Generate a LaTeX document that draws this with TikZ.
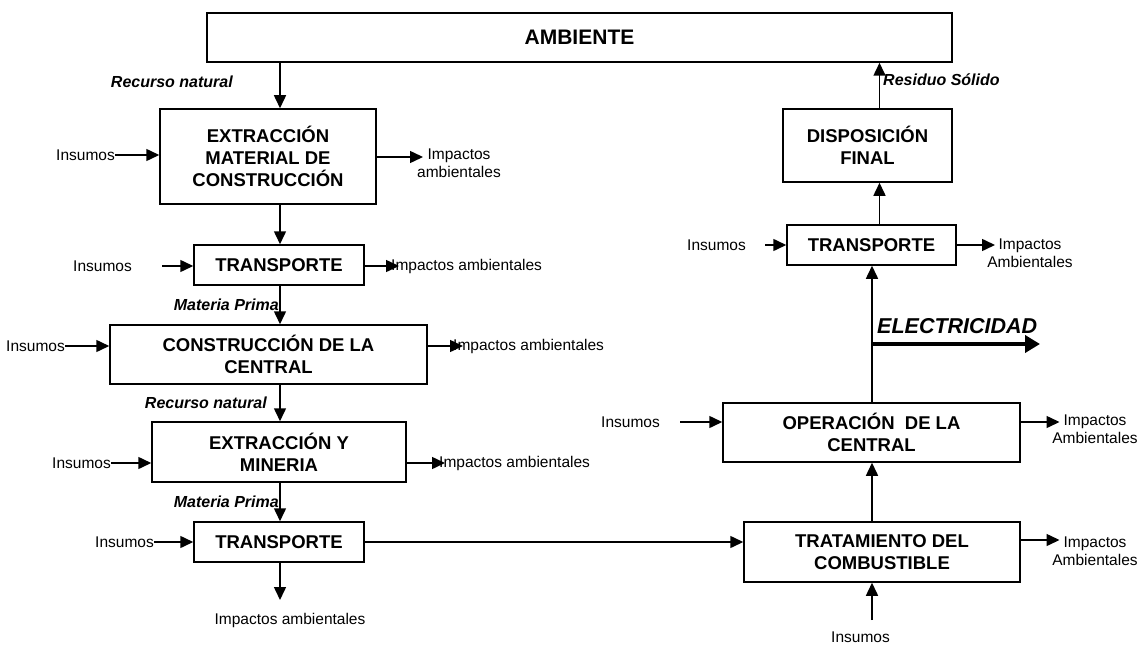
\documentclass[tikz,border=0pt]{standalone}
\usepackage{fontspec}
\setmainfont{Liberation Sans}
\usetikzlibrary{arrows.meta}

\tikzset{
  box/.style={draw, line width=1.5pt, inner sep=0pt, align=center,
              font=\fontsize{18.5}{21.7}\selectfont\bfseries},
  flow/.style={line width=1.5pt, -{Triangle[length=13pt,width=12pt]}},
  txt/.style={inner sep=0pt, align=center, font=\fontsize{15.5}{18.3}\selectfont},
  lab/.style={inner sep=0pt, font=\fontsize{16}{19}\selectfont\bfseries\itshape},
}

\begin{document}
\begin{tikzpicture}[x=1pt,y=-1pt]
\useasboundingbox (0,0) rectangle (1139,647);

% vertical axes of the two chains
\coordinate (xL) at (280,0);
\coordinate (xR) at (872,0);
\coordinate (xS) at (879.5,0);

% process boxes
\node[box, minimum width=745pt, minimum height=49pt,
      font=\fontsize{21}{25}\selectfont\bfseries] (amb) at (579.5,37.5) {AMBIENTE};
\node[box, minimum width=216pt, minimum height=95pt] (emc) at (268,156.5)
     {EXTRACCIÓN\\MATERIAL DE\\CONSTRUCCIÓN};
\node[box, minimum width=170pt, minimum height=40pt] (tr1) at (279,265) {TRANSPORTE};
\node[box, minimum width=317pt, minimum height=59pt] (cons) at (268.5,354.5)
     {CONSTRUCCIÓN DE LA\\CENTRAL};
\node[box, minimum width=254pt, minimum height=60pt] (exm) at (279,452)
     {EXTRACCIÓN Y\\MINERIA};
\node[box, minimum width=170pt, minimum height=40pt] (tr2) at (279,542) {TRANSPORTE};
\node[box, minimum width=169pt, minimum height=73pt] (disp) at (867.5,145.5)
     {DISPOSICIÓN\\FINAL};
\node[box, minimum width=169pt, minimum height=40pt] (tr3) at (871.5,245) {TRANSPORTE};
\node[box, minimum width=297pt, minimum height=59pt] (op) at (871.5,432.5)
     {OPERACIÓN\ \ DE LA\\CENTRAL};
\node[box, minimum width=276pt, minimum height=60pt] (trat) at (882,552)
     {TRATAMIENTO DEL\\COMBUSTIBLE};

% inputs
\node[txt, anchor=east] (in1) at (115,155) {Insumos};
\node[txt, anchor=east] (in2) at (132,266) {Insumos};
\node[txt, anchor=east] (in3) at (65,346) {Insumos};
\node[txt, anchor=east] (in4) at (111,463) {Insumos};
\node[txt, anchor=east] (in5) at (154,542) {Insumos};
\node[txt, anchor=east] (in6) at (746,245) {Insumos};
\node[txt, anchor=east] (in7) at (660,422) {Insumos};
\node[txt] (in8) at (860.5,637) {Insumos};

% environmental impacts
\node[txt] (out1) at (459,163) {Impactos\\ambientales};
\node[txt, anchor=west] (out2) at (391,266) {Impactos ambientales};
\node[txt, anchor=west] (out3) at (453,346) {Impactos ambientales};
\node[txt, anchor=west] (out4) at (439,463) {Impactos ambientales};
\node[txt] (out5) at (290,620) {Impactos ambientales};
\node[txt] (out6) at (1030,253) {Impactos\\Ambientales};
\node[txt] (out7) at (1095,429) {Impactos\\Ambientales};
\node[txt] (out8) at (1095,551) {Impactos\\Ambientales};

% flow labels
\node[lab, anchor=east] (rn1) at (233,82) {Recurso natural};
\node[lab, anchor=east] (mp1) at (279,305) {Materia Prima};
\node[lab, anchor=east] (rn2) at (267,403) {Recurso natural};
\node[lab, anchor=east] (mp2) at (279,502) {Materia Prima};
\node[lab, anchor=west] (rs) at (883,80) {Residuo Sólido};
\node[lab, anchor=west, font=\fontsize{21.5}{25}\selectfont\bfseries\itshape] (el) at (877,326) {ELECTRICIDAD};

% arrow tips next to the impact labels
\coordinate (t1) at (423,157);
\coordinate (t2) at (399,266);
\coordinate (t3) at (463,346);
\coordinate (t4) at (445,463);
\coordinate (t5) at (280,600);
\coordinate (t6) at (995,245);
\coordinate (t7) at (1059.5,422);
\coordinate (t8) at (1059.5,540);
\coordinate (ib) at (872,620);
\coordinate (eb) at (872,344);
\coordinate (ee) at (1040,344);

% main chain
\draw[flow] (amb.south -| xL) -- (emc.north -| xL);
\draw[flow] (emc.south -| xL) -- (tr1.north -| xL);
\draw[flow] (tr1.south -| xL) -- (cons.north -| xL);
\draw[flow] (cons.south -| xL) -- (exm.north -| xL);
\draw[flow] (exm.south -| xL) -- (tr2.north -| xL);
\draw[flow] (tr2.east) -- (tr2.east -| trat.west);
\draw[flow] (trat.north -| xR) -- (op.south -| xR);
\draw[flow] (op.north -| xR) -- (tr3.south -| xR);
\draw[flow] (tr3.north -| xS) -- (disp.south -| xS);
\draw[flow] (disp.north -| xS) -- (amb.south -| xS);
\draw[line width=4.5pt, -{Triangle[length=15pt,width=17pt]}] (eb) -- (ee);

% inputs into the boxes
\draw[flow] (in1.east) -- (in1.east -| emc.west);
\draw[flow] ([xshift=30pt]in2.east) -- (in2.east -| tr1.west);
\draw[flow] (in3.east) -- (in3.east -| cons.west);
\draw[flow] (in4.east) -- (in4.east -| exm.west);
\draw[flow] (in5.east) -- (in5.east -| tr2.west);
\draw[flow] ([xshift=19pt]in6.east) -- (in6.east -| tr3.west);
\draw[flow] ([xshift=20pt]in7.east) -- (in7.east -| op.west);
\draw[flow] (ib) -- (trat.south -| xR);

% outputs to the impact labels
\draw[flow] (emc.east |- t1) -- (t1);
\draw[flow] (tr1.east |- t2) -- (t2);
\draw[flow] (cons.east |- t3) -- (t3);
\draw[flow] (exm.east |- t4) -- (t4);
\draw[flow] (tr2.south -| t5) -- (t5);
\draw[flow] (tr3.east |- t6) -- (t6);
\draw[flow] (op.east |- t7) -- (t7);
\draw[flow] (trat.east |- t8) -- (t8);
\end{tikzpicture}
\end{document}
